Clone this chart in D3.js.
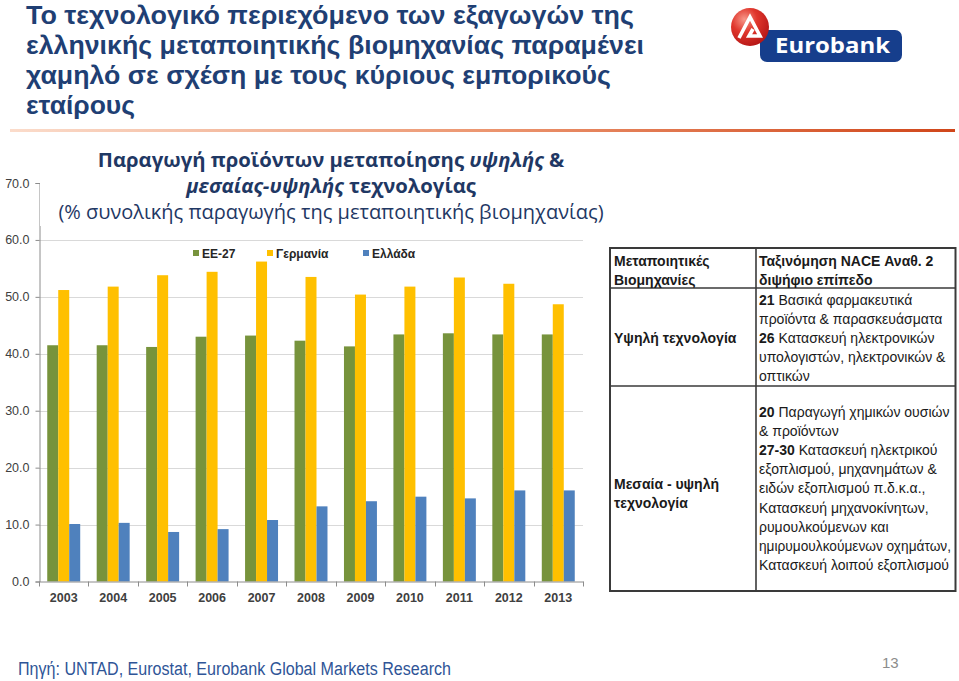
<!DOCTYPE html>
<html><head><meta charset="utf-8">
<script src="https://cdn.jsdelivr.net/npm/d3@7/dist/d3.min.js"></script>
<style>html,body{margin:0;padding:0;background:#fff;overflow:hidden}svg{display:block}</style>
</head><body>
<script>
// ---------- data ----------
const years = ["2003","2004","2005","2006","2007","2008","2009","2010","2011","2012","2013"];
const seriesNames = ["ΕΕ-27","Γερμανία","Ελλάδα"];
const eu27    = [41.5,41.5,41.2,43.0,43.2,42.3,41.3,43.4,43.6,43.4,43.4];
const germany = [51.2,51.8,53.8,54.4,56.2,53.5,50.4,51.8,53.4,52.3,48.7];
const greece  = [10.1,10.3,8.7,9.2,10.8,13.2,14.1,14.9,14.6,16.0,16.0];
const yTicks  = [0,10,20,30,40,50,60,70];
const seriesColors = ["#77933C","#FFC000","#4F81BD"];

const titleLines = [
  "Το τεχνολογικό περιεχόμενο των εξαγωγών της",
  "ελληνικής μεταποιητικής βιομηχανίας παραμένει",
  "χαμηλό σε σχέση με τους κύριους εμπορικούς",
  "εταίρους"
];
const titleWidths = [608, 618, 585, 109];
const subtitleLine1 = [["Παραγωγή προϊόντων μεταποίησης ", false], ["υψηλής", true], [" &", false]];
const subtitleLine2 = [["μεσαίας-υψηλής", true], [" τεχνολογίας", false]];
const subtitleLine3 = "(% συνολικής παραγωγής της μεταποιητικής βιομηχανίας)";

const tableHeaderCol1 = ["Μεταποιητικές","Βιομηχανίες"];
const tableHeaderCol2 = ["Ταξινόμηση NACE Αναθ. 2","διψήφιο επίπεδο"];
const highTechLabel = ["Υψηλή τεχνολογία"];
const highTechItems = [
  ["21"," Βασικά φαρμακευτικά"],
  ["","προϊόντα & παρασκευάσματα"],
  ["26"," Κατασκευή ηλεκτρονικών"],
  ["","υπολογιστών, ηλεκτρονικών &"],
  ["","οπτικών"]
];
const medTechLabel = ["Μεσαία - υψηλή","τεχνολογία"];
const medTechItems = [
  ["20"," Παραγωγή χημικών ουσιών"],
  ["","& προϊόντων"],
  ["27-30"," Κατασκευή ηλεκτρικού"],
  ["","εξοπλισμού, μηχανημάτων &"],
  ["","ειδών εξοπλισμού π.δ.κ.α.,"],
  ["","Κατασκευή μηχανοκίνητων,"],
  ["","ρυμουλκούμενων και"],
  ["","ημιρυμουλκούμενων οχημάτων,"],
  ["","Κατασκευή λοιπού εξοπλισμού"]
];
const sourceText = "Πηγή: UNTAD, Eurostat, Eurobank Global Markets Research";
const pageNumber = "13";

// ---------- svg ----------
const W = 959, H = 681;
const svg = d3.select("body").append("svg").attr("width", W).attr("height", H);
const defs = svg.append("defs");
const lg = defs.append("linearGradient").attr("id","rule").attr("gradientUnits","userSpaceOnUse")
  .attr("x1",10).attr("x2",955).attr("y1",0).attr("y2",0);
lg.append("stop").attr("offset","0").attr("stop-color","#FBDCCB");
lg.append("stop").attr("offset","0.5").attr("stop-color","#EC9670");
lg.append("stop").attr("offset","1").attr("stop-color","#D0461A");
const rg = defs.append("radialGradient").attr("id","ball").attr("cx","0.35").attr("cy","0.3").attr("r","0.75");
rg.append("stop").attr("offset","0").attr("stop-color","#F7988A");
rg.append("stop").attr("offset","0.45").attr("stop-color","#E0362C");
rg.append("stop").attr("offset","1").attr("stop-color","#B51616");

// ---------- title ----------
const titleColor = "#1F3F74";
svg.append("g").selectAll("text").data(titleLines).join("text")
  .attr("x", 26).attr("y", (d,i) => 24 + i*30)
  .attr("font-family","Liberation Sans, Arial, sans-serif").attr("font-weight","bold")
  .attr("font-size", 26).attr("fill", titleColor)
  .attr("textLength", (d,i) => titleWidths[i]).attr("lengthAdjust","spacingAndGlyphs")
  .text(d => d);

svg.append("rect").attr("x", 10).attr("y", 129).attr("width", 945).attr("height", 3)
  .attr("fill","url(#rule)");

// ---------- logo ----------
const logo = svg.append("g");
logo.append("rect").attr("x", 760).attr("y", 30).attr("width", 142).attr("height", 32).attr("rx", 7).attr("fill", "#163E8C");
logo.append("circle").attr("cx", 750).attr("cy", 27).attr("r", 19).attr("fill","url(#ball)");
logo.append("path").attr("d","M739,38 L750,17 L760,36 L749,36 L753,29")
  .attr("fill","none").attr("stroke","#fff").attr("stroke-width",3.6).attr("stroke-linejoin","miter");
logo.append("text").attr("x", 775).attr("y", 53).attr("font-family","Open Sans, Liberation Sans, sans-serif")
  .attr("font-weight","bold").attr("font-size", 22).attr("fill","#fff").attr("textLength",115).attr("lengthAdjust","spacingAndGlyphs").text("Eurobank");

// ---------- chart ----------
const x0 = d3.scaleBand().domain(years).range([39, 583]).paddingInner(0).paddingOuter(0);
const x1 = d3.scaleBand().domain(seriesNames).range([0, x0.bandwidth()]).paddingInner(0).paddingOuter(0.75);
const y = d3.scaleLinear().domain([0, 70]).range([581.5, 183]);

const g = svg.append("g");
// gridlines (the 70 line is hidden behind the subtitle box)
g.append("g").selectAll("line").data(yTicks.filter(t => t > 0 && t < 70)).join("line")
  .attr("x1", 39).attr("x2", 583).attr("y1", d => Math.round(y(d)) + 0.5).attr("y2", d => Math.round(y(d)) + 0.5)
  .attr("stroke", "#D9D9D9").attr("stroke-width", 1.2);

const allSeries = [eu27, germany, greece];
const groups = g.append("g").selectAll("g").data(years).join("g")
  .attr("transform", d => `translate(${x0(d)},0)`);
groups.selectAll("rect").data((d,i) => allSeries.map((s,k) => ({name: seriesNames[k], v: s[i], c: seriesColors[k]})))
  .join("rect")
  .attr("x", d => x1(d.name)).attr("width", x1.bandwidth())
  .attr("y", d => y(d.v)).attr("height", d => y(0) - y(d.v))
  .attr("fill", d => d.c);

// y axis
const yAxis = g.append("g").attr("transform","translate(39.5,0)")
  .call(d3.axisLeft(y).tickValues(yTicks).tickFormat(d3.format(".1f")).tickSize(4).tickPadding(6));
yAxis.select(".domain").attr("stroke","#8C8C8C");
yAxis.selectAll(".tick line").attr("stroke","#8C8C8C");
yAxis.selectAll("text").attr("font-family","Liberation Sans, Arial, sans-serif").attr("font-size",12.5).attr("fill","#404040");

// x axis
const xAxis = g.append("g").attr("transform",`translate(0,${y(0)})`)
  .call(d3.axisBottom(x0).tickSize(0).tickPadding(12));
xAxis.select(".domain").attr("stroke","#8C8C8C");
xAxis.selectAll("text").attr("font-family","Liberation Sans, Arial, sans-serif").attr("font-size",12.5).attr("font-weight","bold").attr("fill","#404040");
const bounds = years.map(d => x0(d)).concat([x0.range()[1]]);
g.append("g").selectAll("line").data(bounds).join("line")
  .attr("x1", d => Math.round(d)+0.5).attr("x2", d => Math.round(d)+0.5)
  .attr("y1", y(0)).attr("y2", y(0)+5).attr("stroke","#8C8C8C");

// legend
const legendX = [193, 267, 363];
const leg = g.append("g").selectAll("g").data(seriesNames).join("g")
  .attr("transform", (d,i) => `translate(${legendX[i]},250)`);
leg.append("rect").attr("width", 6).attr("height", 6).attr("fill", (d,i) => seriesColors[i]);
leg.append("text").attr("x", 9).attr("y", 8).attr("font-family","Liberation Sans, Arial, sans-serif")
  .attr("font-weight","bold").attr("font-size", 12).attr("fill","#262626").text(d => d);

// ---------- subtitle ----------
const subColor = "#1F3864";
const sub = svg.append("g").attr("font-family","Open Sans, Noto Sans, sans-serif").attr("fill", subColor);
function richLine(parent, parts, yPos, weight) {
  const t = parent.append("text").attr("x", 331).attr("y", yPos).attr("text-anchor","middle")
    .attr("font-size", 20.3).attr("font-weight", weight);
  t.selectAll("tspan").data(parts).join("tspan")
    .attr("font-style", d => d[1] ? "italic" : "normal").text(d => d[0]);
  return t;
}
sub.append("rect").attr("x", 40).attr("y", 146).attr("width", 543).attr("height", 80).attr("fill", "#fff");
richLine(sub, subtitleLine1, 167, "bold");
richLine(sub, subtitleLine2, 193, "bold");
sub.append("text").attr("x", 331).attr("y", 219).attr("text-anchor","middle").attr("font-size", 20).text(subtitleLine3);

// ---------- table ----------
const tbl = svg.append("g").attr("font-family","Liberation Sans, Arial, sans-serif").attr("font-size", 14).attr("fill","#1A1A1A");
const tx1 = 614, tx2 = 759, lh = 19.1;
const hLines = [288, 386];
tbl.append("rect").attr("x", 610).attr("y", 248).attr("width", 345.5).attr("height", 343)
  .attr("fill","none").attr("stroke","#3A3A3A").attr("stroke-width", 2);
tbl.append("line").attr("x1", 756).attr("x2", 756).attr("y1", 248).attr("y2", 591).attr("stroke","#3A3A3A").attr("stroke-width", 1.6);
tbl.selectAll("line.h").data(hLines).join("line").attr("class","h")
  .attr("x1", 610).attr("x2", 955.5).attr("y1", d => d).attr("y2", d => d).attr("stroke","#3A3A3A").attr("stroke-width", 1.6);

function plainLines(lines, x, y0, bold) {
  tbl.append("g").selectAll("text").data(lines).join("text")
    .attr("x", x).attr("y", (d,i) => y0 + i*lh).attr("font-weight", bold ? "bold" : "normal").text(d => d);
}
function richItems(items, x, y0) {
  const tt = tbl.append("g").selectAll("text").data(items).join("text")
    .attr("x", x).attr("y", (d,i) => y0 + i*lh);
  tt.append("tspan").attr("font-weight","bold").text(d => d[0]);
  tt.append("tspan").text(d => d[1]);
  tt.each(function() {
    const w = this.getComputedTextLength();
    if (w > 192) d3.select(this).attr("textLength", 192).attr("lengthAdjust", "spacingAndGlyphs");
  });
}
plainLines(tableHeaderCol1, tx1, 266, true);
plainLines(tableHeaderCol2, tx2, 266, true);
plainLines(highTechLabel, tx1, 343, true);
richItems(highTechItems, tx2, 304.5);
plainLines(medTechLabel, tx1, 489, true);
richItems(medTechItems, tx2, 417);

// ---------- footer ----------
svg.append("text").attr("x", 18).attr("y", 675)
  .attr("font-family","Liberation Sans Narrow, Liberation Sans, Arial, sans-serif").attr("font-size", 18)
  .attr("fill","#2F5597").attr("textLength", 433).attr("lengthAdjust","spacingAndGlyphs").text(sourceText);
svg.append("text").attr("x", 882).attr("y", 668)
  .attr("font-family","Liberation Sans Narrow, Liberation Sans, Arial, sans-serif").attr("font-size", 15)
  .attr("fill","#8C8C8C").text(pageNumber);
</script>
</body></html>
